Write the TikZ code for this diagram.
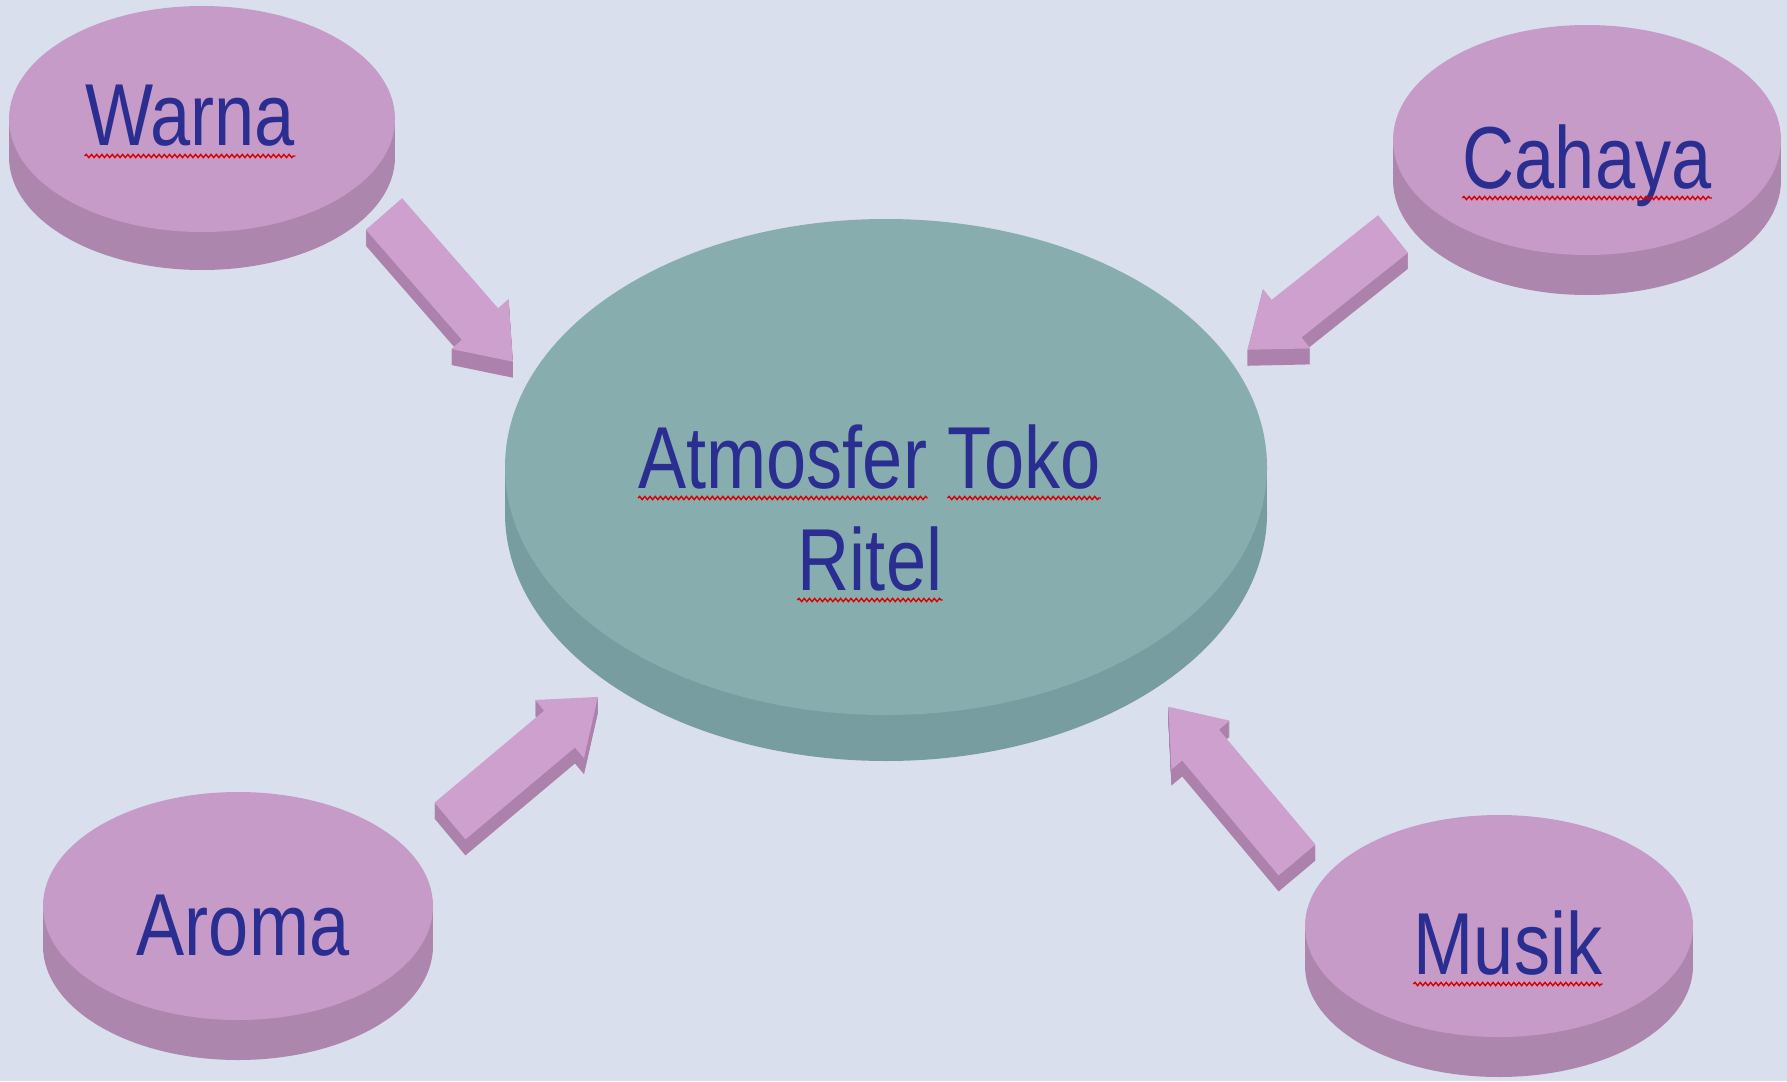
\documentclass[tikz,border=0pt]{standalone}
\usepackage{fontspec}
\newfontfamily\lblfont{Liberation Sans}[FakeStretch=0.82]
\usetikzlibrary{decorations.pathmorphing}
\definecolor{bg}{HTML}{D9DFEC}
\definecolor{ptop}{HTML}{C69BC7}
\definecolor{pside}{HTML}{AD86AD}
\definecolor{ctop}{HTML}{87ADAE}
\definecolor{cside}{HTML}{789DA0}
\definecolor{atop}{HTML}{CDA0CD}
\definecolor{aside}{HTML}{AC82AC}
\definecolor{txt}{HTML}{2B2E91}
\tikzset{
  lbl/.style={inner sep=0pt, text=txt, font=\lblfont\fontsize{44}{52}\selectfont},
  squig/.style={draw=red!85!black, line width=0.7pt, decorate,
    decoration={snake, segment length=2.6pt, amplitude=0.8pt}},
  barrow/.pic={\path[pic actions] (0,-24) -- (#1-50,-24) -- (#1-50,-38) -- (#1,0)
     -- (#1-50,38) -- (#1-50,24) -- (0,24) -- cycle;}
}
\newcommand\mydisc[7]{%
  \fill[#7] (#1,#2+#5) ellipse[x radius=#3, y radius=#4];
  \fill[#7] (#1-#3,#2) rectangle (#1+#3,#2+#5);
  \fill[#6] (#1,#2) ellipse[x radius=#3, y radius=#4];
}
\newcommand\myarrow[3]{%
  \foreach \d in {1,...,16} {\pic[rotate=#2, fill=aside] at ([yshift={-\d*0.5pt}]#1) {barrow=#3};}
  \pic[rotate=#2, fill=atop] at (#1) {barrow=#3};
}
\begin{document}
\begin{tikzpicture}[x=0.5pt,y=-0.5pt]
\fill[bg] (0,0) rectangle (1787,1081);
\useasboundingbox (0,0) rectangle (1787,1081);

% discs
\mydisc{202}{119}{193}{113}{38}{ptop}{pside}
\mydisc{1587}{140}{194}{115}{40}{ptop}{pside}
\mydisc{238}{906}{195}{114}{40}{ptop}{pside}
\mydisc{1499}{926}{194}{111}{40}{ptop}{pside}
\mydisc{886}{467}{381}{248}{46}{ctop}{cside}

% arrow tails
\coordinate (a1) at (384,214);
\coordinate (a2) at (1393,234);
\coordinate (a3) at (450,821);
\coordinate (a4) at (1297,860);
\myarrow{a1}{-48.9}{196}
\myarrow{a2}{218.5}{186}
\myarrow{a3}{40}{193}
\myarrow{a4}{130}{200}

% labels
\node[lbl, anchor=base] (warna) at (190,146) {Warna};
\node[lbl, anchor=base] (cahaya) at (1587,188) {Cahaya};
\node[lbl, anchor=base] (aroma) at (243,955) {Aroma};
\node[lbl, anchor=base] (musik) at (1508,974) {Musik};
\node[lbl, anchor=base west] (atm) at (638,488) {Atmosfer};
\node[lbl, anchor=base west] (toko) at ([xshift=10pt]atm.base east) {Toko};
\node[lbl, anchor=base] (ritel) at (870,590) {Ritel};

% spelling marks
\foreach \n in {warna,cahaya,musik,atm,toko,ritel}
  \draw[squig] ([yshift=-5pt]\n.base west) -- ([yshift=-5pt]\n.base east);
\end{tikzpicture}
\end{document}
